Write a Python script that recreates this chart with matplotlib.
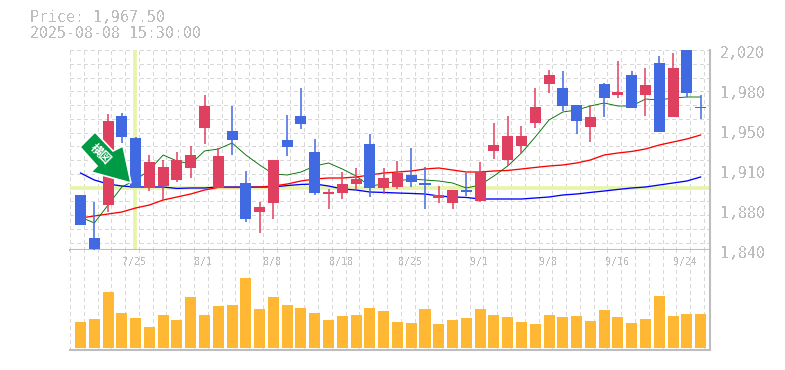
import numpy as np
from matplotlib import pyplot as plt
from matplotlib.patches import Polygon
from matplotlib.transforms import IdentityTransform

W, H = 785, 370

opens = [1889.5, 1851, 1880.5, 1960.5, 1941, 1895.5, 1897.5, 1903, 1914, 1950,
         1895.5, 1947, 1900, 1874, 1882, 1939, 1960.5, 1928, 1890.5, 1891,
         1899.5, 1935.5, 1895.5, 1896.5, 1907.5, 1900, 1887, 1882.5, 1894, 1884,
         1929, 1921, 1933.5, 1954.5, 1989.5, 1986, 1970.5, 1950.5, 1989.5, 1979.5,
         1997.5, 1979.5, 2008, 1960, 2020, 1969]
closes = [1862.5, 1841, 1956, 1941.5, 1895.5, 1919, 1914.5, 1921, 1925.5, 1969.5,
          1924.5, 1939, 1868, 1878.5, 1921, 1932.5, 1953.5, 1891, 1892, 1899.5,
          1904, 1895.5, 1905, 1909, 1901, 1898.5, 1889.5, 1894, 1892, 1910,
          1934.5, 1942.5, 1942.5, 1968.5, 1997.5, 1969.5, 1956, 1959.5, 1977, 1982,
          1968, 1988.5, 1946, 2004, 1981, 1967.5]
highs = [1889.5, 1883, 1962.5, 1963, 1941.5, 1925.5, 1921, 1928, 1933.5, 1979.5,
         1932, 1969.5, 1911, 1883, 1921, 1961.5, 1986, 1940, 1895, 1910,
         1914, 1944.5, 1914, 1920, 1932, 1914.5, 1897.5, 1894, 1909, 1919,
         1954, 1960.5, 1951.5, 1986, 2002, 2001, 1970.5, 1970.5, 1990, 2010,
         2001, 2004, 2014.5, 2017.5, 2020, 1979.5]
lows = [1862.5, 1840, 1874, 1936, 1895.5, 1893, 1885, 1901, 1905, 1935.5,
        1895.5, 1925.5, 1865, 1855, 1868, 1924.5, 1949, 1889.5, 1877, 1886,
        1894, 1887.5, 1890.5, 1895, 1896.5, 1877, 1882.5, 1877, 1888.5, 1883,
        1922, 1915.5, 1927.5, 1950, 1981.5, 1965, 1944.5, 1937, 1959.5, 1977,
        1968, 1960.5, 1946, 1960, 1978, 1958]
ma_short = [1869.7, 1864.3, 1880.5, 1896.7, 1903, 1912, 1925.5, 1920.1, 1917.4, 1929.1,
            1930.9, 1936.3, 1925.5, 1916.5, 1908.4, 1907.5, 1910.2, 1915.6, 1918.3, 1912.9,
            1906.6, 1897.6, 1899.4, 1902.1, 1903.9, 1903, 1902.1, 1900.3, 1895.8, 1898.5,
            1906.6, 1915.6, 1927.3, 1941.7, 1957, 1964.2, 1966, 1969.6, 1972.3, 1969.6,
            1969.6, 1975.9, 1975, 1976.8, 1977.7, 1977.7]
ma_mid = [1868.8, 1870.6, 1872.4, 1874.2, 1877.8, 1880.5, 1885, 1887.7, 1890.4, 1894,
          1896.3, 1896.3, 1896.3, 1896.7, 1897.6, 1899.4, 1902.1, 1903.9, 1904.8, 1904.8,
          1905.7, 1907.5, 1909.3, 1910.2, 1911.1, 1912.9, 1913.8, 1912, 1910.2, 1910.2,
          1911.1, 1911.6, 1912.9, 1914.3, 1915.6, 1916.5, 1918.3, 1921, 1925.5, 1927.3,
          1928.7, 1930.9, 1934.5, 1937.2, 1939.9, 1943.5]
ma_long = [1909.3, 1903, 1899.4, 1897.6, 1896.7, 1896.7, 1896.7, 1895.4, 1895.8, 1895.8,
           1896.7, 1896.7, 1896.7, 1896.7, 1896.7, 1898, 1899, 1899.4, 1897.6, 1894.9,
           1894, 1892.2, 1891.8, 1891.3, 1890.9, 1890.4, 1888.6, 1887.7, 1887.3, 1885.9,
           1885.9, 1885.9, 1885.9, 1886.8, 1887.7, 1889.5, 1890.4, 1891.8, 1893.1, 1894.5,
           1895.8, 1896.7, 1898.5, 1900.3, 1902.1, 1905.7]
volumes = [26, 29, 57, 36, 30, 21, 33, 28, 52, 34, 43, 44, 71, 40, 52, 44, 41, 36, 28, 32,
           33, 41, 38, 26, 25, 40, 24, 28, 30, 40, 33, 31, 26, 24, 34, 31, 32, 27, 39, 31,
           25, 29, 53, 32, 35, 35]
date_idx = [4, 9, 14, 19, 24, 29, 34, 39, 44]
date_labels = ['7/25', '8/1', '8/8', '8/18', '8/25', '9/1', '9/8', '9/16', '9/24']
price_ticks = [1840, 1876, 1912, 1948, 1984, 2020]
price_labels = ['1,840', '1,880', '1,910', '1,950', '1,980', '2,020']
signal_idx = 4
signal_price = 1896

RED = '#E0405F'
BLUE = '#4169E1'
GREY = '#BDBDBD'
GRID = '#D8D8D8'
LIME = '#E6F5A8'
STEP = 13.78  # px per candle

plt.rcParams['text.antialiased'] = False


def box(x0, y0, x1, y1):
    return [x0 / W, 1 - y1 / H, (x1 - x0) / W, (y1 - y0) / H]


def px(x, y):
    return x, H - y


fig = plt.figure(figsize=(W / 100, H / 100), dpi=100)
ax = fig.add_axes(box(70, 50, 710, 250))
ax_vol = fig.add_axes(box(70, 250, 710, 350))

xs = np.arange(len(opens))
xlim = ((70 - 80.5) / STEP, (710 - 80.5) / STEP)
grid_x = xlim[0] + np.arange(47)
grid_y = 2020 - 12.38 * np.arange(15)

for a in (ax, ax_vol):
    a.set_xlim(xlim)
    a.set_xticks(grid_x)
    a.grid(axis='x', color=GRID, lw=0.72, ls=(0, (4, 4)), antialiased=False, zorder=0)
    a.tick_params(left=False, bottom=False, labelleft=False, labelbottom=False)
    a.set_axisbelow(True)
    for s in ('top', 'left'):
        a.spines[s].set_visible(False)
    for s in ('right', 'bottom'):
        a.spines[s].set_color(GREY)
        a.spines[s].set_linewidth(1.5)

ax.set_ylim(1840, 2020)
ax.set_yticks(grid_y)
ax.grid(axis='y', color=GRID, lw=0.72, ls=(0, (4, 4)), antialiased=False, zorder=0)
ax_vol.set_ylim(-2.3, 100)
ax_vol.set_yticks([])

# signal cross
ax.axhline(signal_price, color=LIME, lw=2.6, zorder=1)
ax.axvline(signal_idx - 0.07, color=LIME, lw=2.6, ymin=0.005, zorder=1)

ax.plot(xs, ma_long, color='#0000FF', lw=0.95, zorder=2)
ax.plot(xs, ma_mid, color='#FF0000', lw=0.95, zorder=2)
ax.plot(xs, ma_short, color='#007000', lw=0.65, zorder=2)

colors = [RED if c > o else BLUE for o, c in zip(opens, closes)]
ax.vlines(xs, lows, highs, colors=colors, lw=1.1, zorder=3)
ax.bar(xs, np.array(closes) - np.array(opens), bottom=opens, width=0.8,
       color=colors, lw=0, zorder=3)

ax_vol.bar(xs, volumes, width=0.8, color='#FFB833', lw=0, zorder=3)

# arrow badge
arrow = [(95, 132), (80, 147), (97, 166), (91, 172), (131, 183), (123, 146), (113, 151)]
ax.add_patch(Polygon([px(*p) for p in arrow], closed=True, facecolor='#009944',
                     edgecolor='white', lw=1.2, transform=IdentityTransform(),
                     clip_on=False, zorder=5))
fig.text(100.5 / W, 1 - 154 / H, '横図', color='white', fontsize=8.5, rotation=-45,
         fontweight='bold', family=['Noto Sans CJK JP', 'DejaVu Sans'],
         antialiased=True, ha='center', va='center', zorder=6)

mono = dict(family='DejaVu Sans Mono', color=GREY)
fig.text(30 / W, 1 - 18 / H, 'Price: 1,967.50', fontsize=10.7, va='center', **mono)
fig.text(30 / W, 1 - 33 / H, '2025-08-08 15:30:00', fontsize=10.7, va='center', **mono)

for v, lab in zip(price_ticks, price_labels):
    ax.annotate(lab, xy=(1, v), xycoords=('axes fraction', 'data'),
                xytext=(10, -3), textcoords='offset pixels',
                fontsize=10.7, va='center', ha='left', annotation_clip=False, **mono)

for i, lab in zip(date_idx, date_labels):
    ax_vol.annotate(lab, xy=(i, 1), xycoords=('data', 'axes fraction'),
                    xytext=(-1, -12), textcoords='offset pixels',
                    fontsize=7.2, va='center', ha='center', **mono)

fig.savefig('out.png', dpi=100)
